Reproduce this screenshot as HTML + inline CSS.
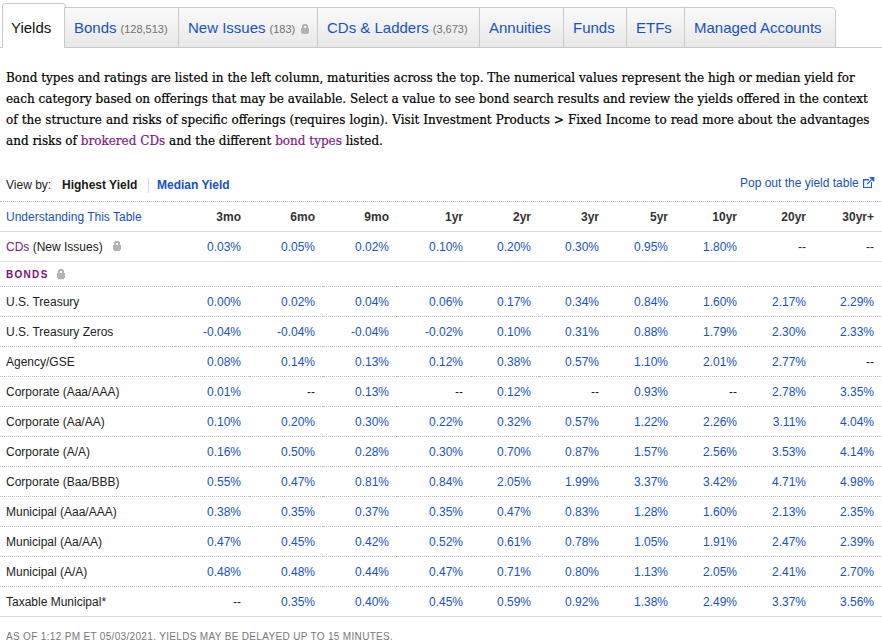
<!DOCTYPE html>
<html><head><meta charset="utf-8">
<style>
*{box-sizing:border-box;margin:0;padding:0}
html,body{width:882px;height:643px;overflow:hidden;background:#fff}
body{font-family:"Liberation Sans",Arial,sans-serif;font-size:12px;color:#222;position:relative}
a{text-decoration:none}
.tabs{position:absolute;left:0;top:0;width:882px;height:48px}
.tabs .base{position:absolute;left:0;right:0;top:47px;height:1px;background:#c9c9c9}
.tab{position:absolute;top:7px;height:41px;border-top:1px solid #c9c9c9;border-left:1px solid #c9c9c9;border-bottom:1px solid #c9c9c9;
 background:linear-gradient(#fafafa,#e8e8e8);font-size:15px;color:#1752c2;line-height:39px;padding-left:9px;white-space:nowrap;z-index:3}
.tab .n{font-size:11px;color:#707070;margin-left:4px}
.tab.last{border-right:1px solid #c9c9c9;border-top-right-radius:4px}
.tab.act{top:3px;height:45px;left:2px;width:64px;padding-left:0;background:#fff;border:1px solid #c9c9c9;border-bottom:none;border-radius:4px 4px 0 0;color:#111;line-height:47px;z-index:2}
.lock{display:inline-block;vertical-align:middle}
.desc{position:absolute;left:6px;top:68px;font-family:"DejaVu Serif",serif;font-size:12px;line-height:21px;color:#000;white-space:nowrap;-webkit-text-stroke:0.2px #000}
.desc a{color:#7d1a82;-webkit-text-stroke:0.2px #7d1a82}
.viewby{position:absolute;left:6px;top:175px;height:20px;font-size:12px;line-height:20px;color:#222;white-space:nowrap}
.viewby b{font-weight:bold}
.viewby .hy{position:absolute;left:56px;top:0;color:#1a1a1a}
.viewby .sep{position:absolute;left:142px;top:3px;width:1px;height:15px;background:#d8d8d8}
.viewby .my{position:absolute;left:151px;top:0;color:#1752c2}
.pop{position:absolute;left:740px;top:173px;font-size:12px;line-height:20px;color:#1752c2;white-space:nowrap}
.pop svg{position:absolute;left:123px;top:5px}
.dline{position:absolute;left:0;top:201px;width:882px;height:0;border-top:1px dotted #b8b8b8}
table.yt{position:absolute;left:0;top:201px;width:882px;border-collapse:collapse;table-layout:fixed;font-size:12px}
.yt td,.yt th{padding:1px 8px 0 0;text-align:right;vertical-align:middle;height:30px;border-bottom:1px dotted #c0c0c0;white-space:nowrap}
.yt th{font-weight:bold;color:#333}
.yt td.lbl{text-align:left;padding-left:6px;color:#222}
.yt td a{color:#1752c2}
.yt td.na{color:#222}
.yt tr.hd td,.yt tr.hd th{border-bottom:1px solid #dcdcdc;padding-top:2px}
.yt tr.cd td{border-bottom:1px solid #dcdcdc}
.yt tr.bo td{height:25px}
.yt tr.last td{border-bottom:1px solid #dcdcdc}
.yt a.bl{color:#1752c2}
.yt a.pu{color:#7d1a82}
.bonds{font-size:10px;font-weight:bold;color:#7d0f7f;letter-spacing:1.3px}
.lkw{display:inline-block;margin-left:6px;vertical-align:-1px}
.foot{position:absolute;left:6px;top:630px;font-size:10px;line-height:14px;color:#777;letter-spacing:0.33px;white-space:nowrap}
</style></head><body>
<div class="tabs">
 <div class="base"></div>
 <div class="tab act"><span style="padding-left:8px">Yields</span></div>
 <div class="tab" style="left:64px;width:114px">Bonds<span class="n">(128,513)</span></div>
 <div class="tab" style="left:178px;width:139px">New Issues<span class="n">(183)</span></div>
 <div class="tab" style="left:317px;width:162px">CDs &amp; Ladders<span class="n">(3,673)</span></div>
 <div class="tab" style="left:479px;width:84px">Annuities</div>
 <div class="tab" style="left:563px;width:63px">Funds</div>
 <div class="tab" style="left:626px;width:58px">ETFs</div>
 <div class="tab last" style="left:684px;width:152px">Managed Accounts</div>
 <svg class="lk" style="position:absolute;left:301px;top:24px;z-index:5" width="8" height="10" viewBox="0 0 8 10" shape-rendering="crispEdges" fill="#b3b3b3"><rect x="2" y="0" width="4" height="1"/><rect x="1" y="1" width="6" height="1"/><rect x="1" y="2" width="2" height="2"/><rect x="5" y="2" width="2" height="2"/><path d="M0 4h8v5h-1v1h-6v-1h-1z"/></svg>
</div>
<div class="desc">Bond types and ratings are listed in the left column, maturities across the top. The numerical values represent the high or median yield for<br>each category based on offerings that may be available. Select a value to see bond search results and review the yields offered in the context<br><span style="word-spacing:0.2px">of the structure and risks of specific offerings (requires login). Visit Investment Products &gt; Fixed Income to read more about the advantages</span><br>and risks of <a>brokered CDs</a> and the different <a>bond types</a> listed.</div>
<div class="viewby">View by: <b class="hy">Highest Yield</b><span class="sep"></span><b class="my">Median Yield</b></div>
<div class="pop">Pop out the yield table</div>
<svg style="position:absolute;left:858px;top:172px" width="22" height="22" viewBox="858 172 22 22" fill="#1a63cc"><rect x="863" y="179" width="6" height="1.5"/><rect x="863" y="179" width="1.2" height="9"/><rect x="863" y="187" width="9" height="1"/><rect x="870.9" y="182" width="1.1" height="6"/><path d="M869 177H874.3V182.2Z"/><path d="M867.2 184L871.8 179.4" stroke="#1a63cc" stroke-width="1.1" fill="none"/></svg>
<div class="dline"></div>
<!--TABLE-->
<table class="yt">
<colgroup><col style="width:175px"><col style="width:74px"><col style="width:74px"><col style="width:74px"><col style="width:74px"><col style="width:68px"><col style="width:68px"><col style="width:69px"><col style="width:69px"><col style="width:69px"><col style="width:68px"></colgroup>
<tr class="hd"><td class="lbl"><a class="bl">Understanding This Table</a></td><th>3mo</th><th>6mo</th><th>9mo</th><th>1yr</th><th>2yr</th><th>3yr</th><th>5yr</th><th>10yr</th><th>20yr</th><th>30yr+</th></tr>
<tr class="cd"><td class="lbl"><a class="pu">CDs</a> (New Issues) </td><td><a>0.03%</a></td><td><a>0.05%</a></td><td><a>0.02%</a></td><td><a>0.10%</a></td><td><a>0.20%</a></td><td><a>0.30%</a></td><td><a>0.95%</a></td><td><a>1.80%</a></td><td class="na">--</td><td class="na">--</td></tr>
<tr class="bo"><td class="lbl" colspan="11"><span class="bonds">BONDS</span></td></tr>
<tr><td class="lbl">U.S. Treasury</td><td><a>0.00%</a></td><td><a>0.02%</a></td><td><a>0.04%</a></td><td><a>0.06%</a></td><td><a>0.17%</a></td><td><a>0.34%</a></td><td><a>0.84%</a></td><td><a>1.60%</a></td><td><a>2.17%</a></td><td><a>2.29%</a></td></tr>
<tr><td class="lbl">U.S. Treasury Zeros</td><td><a>-0.04%</a></td><td><a>-0.04%</a></td><td><a>-0.04%</a></td><td><a>-0.02%</a></td><td><a>0.10%</a></td><td><a>0.31%</a></td><td><a>0.88%</a></td><td><a>1.79%</a></td><td><a>2.30%</a></td><td><a>2.33%</a></td></tr>
<tr><td class="lbl">Agency/GSE</td><td><a>0.08%</a></td><td><a>0.14%</a></td><td><a>0.13%</a></td><td><a>0.12%</a></td><td><a>0.38%</a></td><td><a>0.57%</a></td><td><a>1.10%</a></td><td><a>2.01%</a></td><td><a>2.77%</a></td><td class="na">--</td></tr>
<tr><td class="lbl">Corporate (Aaa/AAA)</td><td><a>0.01%</a></td><td class="na">--</td><td><a>0.13%</a></td><td class="na">--</td><td><a>0.12%</a></td><td class="na">--</td><td><a>0.93%</a></td><td class="na">--</td><td><a>2.78%</a></td><td><a>3.35%</a></td></tr>
<tr><td class="lbl">Corporate (Aa/AA)</td><td><a>0.10%</a></td><td><a>0.20%</a></td><td><a>0.30%</a></td><td><a>0.22%</a></td><td><a>0.32%</a></td><td><a>0.57%</a></td><td><a>1.22%</a></td><td><a>2.26%</a></td><td><a>3.11%</a></td><td><a>4.04%</a></td></tr>
<tr><td class="lbl">Corporate (A/A)</td><td><a>0.16%</a></td><td><a>0.50%</a></td><td><a>0.28%</a></td><td><a>0.30%</a></td><td><a>0.70%</a></td><td><a>0.87%</a></td><td><a>1.57%</a></td><td><a>2.56%</a></td><td><a>3.53%</a></td><td><a>4.14%</a></td></tr>
<tr><td class="lbl">Corporate (Baa/BBB)</td><td><a>0.55%</a></td><td><a>0.47%</a></td><td><a>0.81%</a></td><td><a>0.84%</a></td><td><a>2.05%</a></td><td><a>1.99%</a></td><td><a>3.37%</a></td><td><a>3.42%</a></td><td><a>4.71%</a></td><td><a>4.98%</a></td></tr>
<tr><td class="lbl">Municipal (Aaa/AAA)</td><td><a>0.38%</a></td><td><a>0.35%</a></td><td><a>0.37%</a></td><td><a>0.35%</a></td><td><a>0.47%</a></td><td><a>0.83%</a></td><td><a>1.28%</a></td><td><a>1.60%</a></td><td><a>2.13%</a></td><td><a>2.35%</a></td></tr>
<tr><td class="lbl">Municipal (Aa/AA)</td><td><a>0.47%</a></td><td><a>0.45%</a></td><td><a>0.42%</a></td><td><a>0.52%</a></td><td><a>0.61%</a></td><td><a>0.78%</a></td><td><a>1.05%</a></td><td><a>1.91%</a></td><td><a>2.47%</a></td><td><a>2.39%</a></td></tr>
<tr><td class="lbl">Municipal (A/A)</td><td><a>0.48%</a></td><td><a>0.48%</a></td><td><a>0.44%</a></td><td><a>0.47%</a></td><td><a>0.71%</a></td><td><a>0.80%</a></td><td><a>1.13%</a></td><td><a>2.05%</a></td><td><a>2.41%</a></td><td><a>2.70%</a></td></tr>
<tr class="last"><td class="lbl">Taxable Municipal*</td><td class="na">--</td><td><a>0.35%</a></td><td><a>0.40%</a></td><td><a>0.45%</a></td><td><a>0.59%</a></td><td><a>0.92%</a></td><td><a>1.38%</a></td><td><a>2.49%</a></td><td><a>3.37%</a></td><td><a>3.56%</a></td></tr>
</table>
<!--/TABLE-->
<svg class="lk" style="position:absolute;left:113px;top:241px;z-index:5" width="8" height="10" viewBox="0 0 8 10" shape-rendering="crispEdges" fill="#b3b3b3"><rect x="2" y="0" width="4" height="1"/><rect x="1" y="1" width="6" height="1"/><rect x="1" y="2" width="2" height="2"/><rect x="5" y="2" width="2" height="2"/><path d="M0 4h8v5h-1v1h-6v-1h-1z"/></svg>
<svg class="lk" style="position:absolute;left:57px;top:269px;z-index:5" width="8" height="10" viewBox="0 0 8 10" shape-rendering="crispEdges" fill="#b3b3b3"><rect x="2" y="0" width="4" height="1"/><rect x="1" y="1" width="6" height="1"/><rect x="1" y="2" width="2" height="2"/><rect x="5" y="2" width="2" height="2"/><path d="M0 4h8v5h-1v1h-6v-1h-1z"/></svg>
<div class="foot">AS OF 1:12 PM ET 05/03/2021. YIELDS MAY BE DELAYED UP TO 15 MINUTES.</div>
</body></html>
